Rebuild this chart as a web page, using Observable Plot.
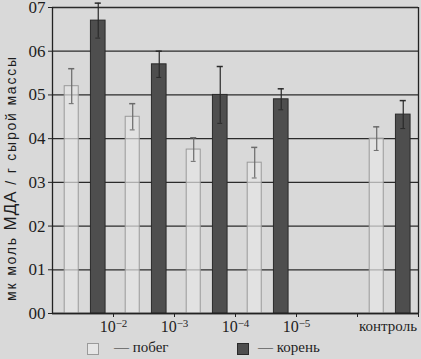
<!DOCTYPE html>
<html><head><meta charset="utf-8">
<script src="https://cdn.jsdelivr.net/npm/d3@7"></script>
<script src="https://cdn.jsdelivr.net/npm/@observablehq/plot@0.6"></script>
<style>
html,body{margin:0;padding:0;background:#d9d9d9;}
body{width:421px;height:359px;overflow:hidden;font-family:"Liberation Serif",serif;color:#1e1e1e;}
#chart svg{display:block;}
#legend{position:relative;height:21px;font-size:15px;}
.sw{position:absolute;top:5px;width:12px;height:12px;box-sizing:border-box;}
.lab{position:absolute;top:1px;white-space:nowrap;}
</style></head><body>
<div id="chart"></div>
<div id="legend"></div>
<script>
// ---- data ----
const seriesNames = ["побег", "корень"];
const barSlots = [0, 1, 2, 3, 5];            // slot of each concentration group
const shoot    = [0.52, 0.45, 0.375, 0.345, 0.40];
const shootErr = [0.04, 0.03, 0.027, 0.035, 0.027];
const root     = [0.67, 0.57, 0.50, 0.49, 0.455];
const rootErr  = [0.04, 0.03, 0.065, 0.024, 0.032];
const xTickSlots = [1, 2, 3, 4];
const xTickExponents = ["−2", "−3", "−4", "−5"];
const xTickMarks = [1, 2, 3, 4, 5, 6];
const controlLabel = "контроль";
const controlSlot = 5.5;
const yTicks = [0, 0.1, 0.2, 0.3, 0.4, 0.5, 0.6, 0.7];
const yTickLabels = ["00", "01", "02", "03", "04", "05", "06", "07"];

// ---- build table ----
const off = {"побег": [0.2, 0.43], "корень": [0.63, 0.87]};
const rows = [];
barSlots.forEach((s, i) => {
  rows.push({slot: s, series: seriesNames[0], value: shoot[i], err: shootErr[i]});
  rows.push({slot: s, series: seriesNames[1], value: root[i], err: rootErr[i]});
});
const cx = d => d.slot + (off[d.series][0] + off[d.series][1]) / 2;
const fillOf = d => d.series === "побег" ? "#e6e6e6" : "#4e4e4e";
const strokeOf = d => d.series === "побег" ? "#9a9a9a" : "#2a2a2a";
const errOf = d => d.series === "побег" ? "#6a6a6a" : "#2a2a2a";

const plot = Plot.plot({
  width: 421, height: 338,
  marginLeft: 52, marginRight: 3, marginTop: 7, marginBottom: 25,
  style: {background: "transparent", fontFamily: "Liberation Serif, serif", color: "#1e1e1e", overflow: "visible"},
  x: {type: "linear", domain: [0, 6], axis: null},
  y: {domain: [0, 0.7], axis: null},
  marks: [
    Plot.ruleY(yTicks, {stroke: "#2b2b2b", strokeWidth: 1.3}),
    Plot.rectY(rows, {x1: d => d.slot + off[d.series][0], x2: d => d.slot + off[d.series][1], y: "value",
      fill: fillOf, fillOpacity: d => d.series === "побег" ? 0.7 : 1, stroke: strokeOf, strokeWidth: 1}),
    Plot.ruleX(rows, {x: cx, y1: d => d.value - d.err, y2: d => d.value + d.err, stroke: errOf, strokeWidth: 1.2}),
    Plot.ruleY(rows, {y: d => d.value + d.err, x1: d => cx(d) - 0.05, x2: d => cx(d) + 0.05, stroke: errOf, strokeWidth: 1.5}),
    Plot.ruleY(rows, {y: d => d.value - d.err, x1: d => cx(d) - 0.04, x2: d => cx(d) + 0.04, stroke: errOf, strokeWidth: 1}),
    Plot.ruleX([0, 6], {stroke: "#222", strokeWidth: 1.3}),
    Plot.ruleY([0], {stroke: "#222", strokeWidth: 1.5}),
    Plot.axisY({ticks: yTicks, tickSize: 4, tickPadding: 3, stroke: "#222", label: null,
      tickFormat: d => yTickLabels[yTicks.indexOf(d)], fontSize: 17}),
    Plot.axisX({ticks: xTickMarks, tickSize: 4, tickFormat: () => "", stroke: "#222", label: null}),
    Plot.axisX({ticks: xTickSlots, tickSize: 0, tickPadding: 7, tickFormat: d => "10", fontSize: 16, ariaLabel: "x-exp", label: null}),
    Plot.axisX({ticks: [controlSlot], tickSize: 0, tickPadding: 7, tickFormat: () => controlLabel, fontSize: 15, ariaLabel: "x-control", label: null})
  ]
});
document.getElementById("chart").appendChild(plot);

// superscript exponents
const svg = d3.select(plot);
svg.selectAll('g[aria-label="x-exp tick label"] text').each(function(d, i) {
  const t = d3.select(this);
  t.text(null);
  t.append("tspan").text("10");
  t.append("tspan").attr("dy", "-0.45em").attr("font-size", 11).text(xTickExponents[i]);
});

// y-axis title with mixed sizes
const title = svg.append("text")
  .attr("transform", "translate(16,178) rotate(-90)")
  .attr("text-anchor", "middle")
  .attr("font-family", "Liberation Sans, Arial, sans-serif")
  .attr("fill", "#1e1e1e");
title.append("tspan").attr("font-size", 14).attr("letter-spacing", 1.8).text("мк моль ");
title.append("tspan").attr("font-size", 17).attr("letter-spacing", 1).text("МДА");
title.append("tspan").attr("font-size", 14).attr("letter-spacing", 1.8).text(" / г сырой массы");

// legend
const legend = d3.select("#legend");
const items = [
  {name: seriesNames[0], sw: 87, text: 114, fill: "#e6e6e6", stroke: "#9a9a9a"},
  {name: seriesNames[1], sw: 237, text: 258, fill: "#4e4e4e", stroke: "#2a2a2a"}
];
items.forEach(it => {
  legend.append("div").attr("class", "sw")
    .style("left", it.sw + "px").style("background", it.fill).style("border", "1px solid " + it.stroke);
  legend.append("div").attr("class", "lab").style("left", it.text + "px").text("— " + it.name);
});
</script>
</body></html>
